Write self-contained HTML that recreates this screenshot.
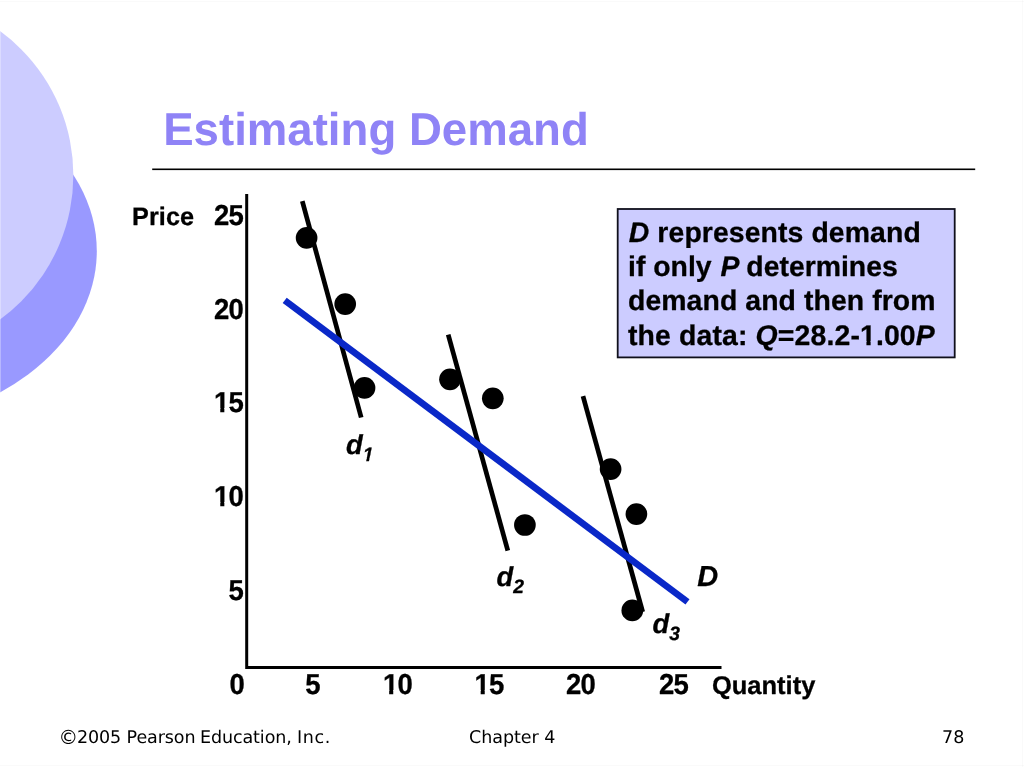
<!DOCTYPE html>
<html lang="en">
<head>
<meta charset="utf-8">
<title>Estimating Demand</title>
<style>
html,body{margin:0;padding:0;background:#fff;}
body{width:1024px;height:767px;overflow:hidden;position:relative;font-family:"Liberation Sans",sans-serif;}
svg{position:absolute;left:0;top:0;display:block;}
text{text-rendering:geometricPrecision;font-family:"Liberation Sans",sans-serif;font-weight:bold;fill:#000;stroke:#000;stroke-width:0.3px;stroke-linejoin:round;}
.ft{font-family:"DejaVu Sans","Liberation Sans",sans-serif;font-weight:normal;font-size:17.5px;fill:#000;stroke:none;}
.it{font-style:italic;}
.num{font-size:27.5px;letter-spacing:-0.8px;stroke-width:0.5px;}
</style>
</head>
<body>
<svg width="1024" height="767" viewBox="0 0 1024 767">
  <rect width="1024" height="767" fill="#ffffff"/>
  <!-- decorative circles -->
  <ellipse cx="-136.5" cy="251" rx="233.3" ry="174.35" fill="#9999ff"/>
  <circle cx="-105.05" cy="175.3" r="178.4" fill="#ccccff"/>
  <rect x="0" y="0" width="1" height="767" fill="#ffffff" opacity="0.3"/>
  <path d="M0 1.5H1024M1022.5 0V767M0 765.5H1024" stroke="#000" stroke-opacity="0.02" stroke-width="1" fill="none"/>
  <!-- title -->
  <text transform="translate(163.2 145) scale(0.991 1)" font-size="46" style="fill:#8f83f6;stroke:none">Estimating Demand</text>
  <rect x="152.2" y="168.5" width="823" height="1.6" fill="#000"/>
  <!-- axes -->
  <path d="M246.7 194 V667.5 H721.5" fill="none" stroke="#000" stroke-width="3"/>
  <!-- y labels -->
  <text x="132" y="225" font-size="25.2" letter-spacing="0.1">Price</text>
  <g class="num" text-anchor="end">
    <text transform="translate(243 225) scale(1 1.05)">25</text>
    <text transform="translate(243 319) scale(1 1.05)">20</text>
    <text transform="translate(243 412) scale(1 1.05)">15</text>
    <text transform="translate(243 506) scale(1 1.05)">10</text>
    <text transform="translate(243 600) scale(1 1.05)">5</text>
  </g>
  <g class="num" text-anchor="middle">
    <text transform="translate(236.7 694) scale(1 1.05)">0</text>
    <text transform="translate(312.6 694) scale(1 1.05)">5</text>
    <text transform="translate(397.4 694) scale(1 1.05)">10</text>
    <text transform="translate(488.9 694) scale(1 1.05)">15</text>
    <text transform="translate(580.6 694) scale(1 1.05)">20</text>
    <text transform="translate(673.6 694) scale(1 1.05)">25</text>
  </g>
  <text x="711.9" y="694" font-size="25.5">Quantity</text>
  <!-- demand lines -->
  <g stroke="#000" stroke-width="4.7" fill="none">
    <line x1="302.3" y1="201.2" x2="361.2" y2="417.5"/>
    <line x1="448.2" y1="334.6" x2="507.8" y2="550.6"/>
    <line x1="583" y1="396.2" x2="642.7" y2="612"/>
  </g>
  <line x1="284.7" y1="300.4" x2="687.5" y2="601.9" stroke="#0a28c8" stroke-width="6.7"/>
  <g fill="#000">
    <circle cx="306.6" cy="237.8" r="10.85"/>
    <circle cx="345.2" cy="304.1" r="10.85"/>
    <circle cx="364.5" cy="387.9" r="10.85"/>
    <circle cx="450" cy="379.3" r="10.85"/>
    <circle cx="492.8" cy="398.3" r="10.85"/>
    <circle cx="524.9" cy="525" r="10.85"/>
    <circle cx="610.6" cy="469.1" r="10.85"/>
    <circle cx="636.4" cy="514.1" r="10.85"/>
    <circle cx="632.3" cy="610.4" r="10.85"/>
  </g>
  <g font-size="27.4" class="it">
    <text x="346" y="454">d<tspan font-size="19.3" dy="7">1</tspan></text>
    <text x="496.5" y="586">d<tspan font-size="19.3" dy="7">2</tspan></text>
    <text x="652.5" y="633">d<tspan font-size="19.3" dy="7">3</tspan></text>
    <text x="697.2" y="586" font-size="29">D</text>
  </g>
  <!-- note box -->
  <rect x="617.7" y="209" width="337" height="148.4" fill="#ccccff" stroke="#10101c" stroke-width="1.8"/>
  <g font-size="28.4">
    <text transform="translate(628.8 242)" letter-spacing="0.09"><tspan class="it">D</tspan> represents demand</text>
    <text transform="translate(628 276)">if only <tspan class="it" dx="0.9">P</tspan><tspan dx="-0.9"> determines</tspan></text>
    <text transform="translate(628 310)" letter-spacing="0.08">demand and then from</text>
    <text transform="translate(628 345)" letter-spacing="0.14">the data<tspan>: </tspan><tspan class="it">Q</tspan>=28.2-1.00<tspan class="it">P</tspan></text>
  </g>
  <!-- trims so the numeral 1 reads as a plain stroke -->
  <g>
    <path d="M214.43 408.05H220.27V413.60H214.43ZM224.34 408.05H229.83V413.60H224.34Z" fill="#fff"/>
    <path d="M214.43 502.05H220.27V507.60H214.43ZM224.34 502.05H229.83V507.60H224.34Z" fill="#fff"/>
    <path d="M383.33 690.05H389.17V695.60H383.33ZM393.24 690.05H398.73V695.60H393.24Z" fill="#fff"/>
    <path d="M474.83 690.05H480.67V695.60H474.83ZM484.74 690.05H490.23V695.60H484.74Z" fill="#fff"/>
    <path d="M361.32 462.60L362.07 457.80L366.82 457.80L365.92 462.60ZM369.72 457.80L373.85 457.80L373.10 462.60L368.71 462.60Z" fill="#fff"/>
    <path d="M860.44 341.10H866.43V346.60H860.44ZM870.63 341.10H876.25V346.60H870.63Z" fill="#ccccff"/>
  </g>
  <!-- footer -->
  <text class="ft" y="743"><tspan x="58.4" dy="1" font-size="19.6">©</tspan><tspan x="77" dy="-1" letter-spacing="-0.1">2005 Pearson</tspan> <tspan x="200" letter-spacing="-0.1">Education,</tspan> <tspan x="297" letter-spacing="0.6">Inc.</tspan></text>
  <text class="ft" x="469" y="743" letter-spacing="-0.05">Chapter 4</text>
  <text class="ft" x="964.4" y="743" text-anchor="end">78</text>
</svg>
</body>
</html>
